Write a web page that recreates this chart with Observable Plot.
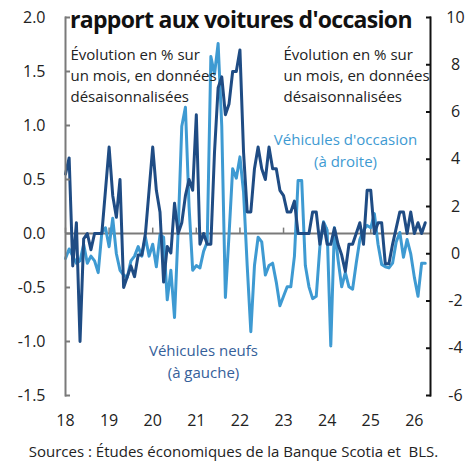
<!DOCTYPE html>
<html><head><meta charset="utf-8">
<script src="https://cdn.jsdelivr.net/npm/d3@7"></script>
<script src="https://cdn.jsdelivr.net/npm/@observablehq/plot@0.6"></script>
<style>
body{margin:0;background:#fff;font-family:"Open Sans",sans-serif;}
#wrap{position:relative;width:467px;height:462px;overflow:hidden;background:#fff;}
#chart{position:absolute;left:0;top:0;}
#title{position:absolute;left:70px;top:4px;font-weight:700;font-size:23px;letter-spacing:-0.7px;color:#111;white-space:nowrap;line-height:30px;}
#caption{position:absolute;left:0;width:467px;top:441px;text-align:center;font-size:15px;color:#222;white-space:pre;line-height:20px;}
</style></head><body>
<div id="wrap"><div id="chart"></div><div id="title">rapport aux voitures d'occasion</div><div id="caption">Sources : Études économiques de la Banque Scotia et  BLS.</div></div>
<script>
// Monthly % change, seasonally adjusted, Jan 2018 onward
const newVehicles = [
  0.55, 0.7, -0.3, 0.1, -1.0, -0.05, 0.0, -0.15, 0.0, 0.0, 0.0, 0.4,
  0.8, 0.35, 0.15, 0.5, -0.5, -0.4, -0.3, -0.4, -0.2, -0.2, 0.0, 0.4,
  0.8, 0.4, 0.2, -0.45, -0.12, -0.18, 0.28, 0.0, 0.1, 0.35, 0.5, 0.4,
  1.1, -0.1, 0.0, -0.1, -0.1, 0.75, 1.35, 1.45, 1.1, 1.2, 1.5, 1.5,
  1.7, 0.75, 0.2, 0.2, 0.6, 0.8, 0.6, 0.5, 0.8, 0.6, 0.6, 0.4,
  0.35, 0.2, 0.2, 0.3, 0.0, 0.0, 0.0, 0.0, 0.2, 0.2, -0.1, 0.1,
  -0.1, -0.1, 0.05, -0.1, -0.2, -0.35, -0.1, -0.1, 0.0, 0.1, -0.1, 0.4,
  0.4, 0.0, 0.1, 0.1, -0.28, -0.28, -0.1, 0.05, 0.2, 0.2, 0.0, 0.2,
  0.0, 0.1, 0.0, 0.1
];
const usedVehicles = [
  -0.2, 0.2, -0.1, -0.4, -0.3, 0.4, -0.4, -0.1, -0.3, -0.8, 0.9, 1.1,
  0.3, 1.5, 0.0, -0.7, -0.9, -1.0, -0.3, -0.1, 0.3, -0.1, 0.7, -0.1,
  0.4, -0.55, 0.8, 0.7, -1.95, -0.7, -2.7, 1.0, 5.4, 6.2, 2.0, -0.7,
  -0.5, -0.6, 0.1, 0.5, 8.35, 7.6, 8.9, 5.4, -1.85, 0.8, 3.6, 3.2,
  4.1, 2.6, -0.5, -3.3, -0.5, 0.7, 0.5, -0.9, -0.5, -0.4, -1.2, -2.2,
  -1.8, -1.4, -1.4, -0.1, 3.1, 3.1, -0.5, -1.4, -1.9, -1.8, 0.3, 1.35,
  1.0, -3.9, 1.1, -0.25, -1.4, -0.8, -1.4, -1.5, -0.4, 0.6, 1.0, 1.2,
  1.1, 1.7, 0.4, -0.45, -0.55, -0.6, -0.4, 0.5, 0.9, -0.15, 0.6, 0.0,
  -1.0, -1.8, -0.4, -0.4
];
const xTicks = [18, 19, 20, 21, 22, 23, 24, 25, 26];
const leftTicks = [-1.5, -1.0, -0.5, 0.0, 0.5, 1.0, 1.5, 2.0];
const rightTicks = [-6, -4, -2, 0, 2, 4, 6, 8, 10];

const darkColor = "#1f4c84";
const lightColor = "#3e9ad2";
const leftDomain = [-1.5, 2.0];
const rightDomain = [-6, 10];
const toLeft = v => leftDomain[0] + (v - rightDomain[0]) * (leftDomain[1] - leftDomain[0]) / (rightDomain[1] - rightDomain[0]);
const toRight = v => rightDomain[0] + (v - leftDomain[0]) * (rightDomain[1] - rightDomain[0]) / (leftDomain[1] - leftDomain[0]);

const data = newVehicles.map((v, i) => ({m: 18 + i / 12, nv: v, uv: toLeft(usedVehicles[i])}));

const chart = Plot.plot({
  width: 467, height: 440,
  marginLeft: 65, marginRight: 37, marginTop: 17, marginBottom: 45,
  x: {domain: [18, 26.37], label: null},
  y: {domain: leftDomain, label: null},
  style: {fontFamily: "'Open Sans', sans-serif", fontSize: "16px", color: "#222", background: "#fff"},
  marks: [
    Plot.ruleY([0], {stroke: "#7a7a7a", strokeWidth: 2}),
    Plot.ruleX(xTicks, {x: d => d, y1: 0, y2: 0.05, stroke: "#7a7a7a", strokeWidth: 1.5}),
    Plot.line(data, {x: "m", y: "uv", stroke: lightColor, strokeWidth: 3}),
    Plot.line(data, {x: "m", y: "nv", stroke: darkColor, strokeWidth: 3}),
    Plot.frame({anchor: "left", stroke: "#7a7a7a", strokeWidth: 2}),
    Plot.frame({anchor: "right", stroke: "#111", strokeWidth: 2}),
    Plot.axisY(leftTicks, {anchor: "left", label: null, tickSize: -5, stroke: "#7a7a7a", strokeWidth: 2, tickFormat: () => ""}),
    Plot.axisY(leftTicks, {anchor: "left", label: null, tickSize: 0, tickPadding: 20, fontSize: 16, fill: "#222", tickFormat: d => d.toFixed(1)}),
    Plot.axisY(rightTicks.map(toLeft), {anchor: "right", label: null, tickSize: -5, stroke: "#111", strokeWidth: 2, tickFormat: () => ""}),
    Plot.axisY(rightTicks.map(toLeft), {anchor: "right", label: null, tickSize: 0, tickPadding: 25, textAnchor: "middle", fontSize: 16, fill: "#222", tickFormat: d => String(Math.round(toRight(d)))}),
    Plot.axisX(xTicks, {anchor: "bottom", label: null, tickSize: 0, tickPadding: 19, fontSize: 16, fill: "#222", tickFormat: d => String(d)}),
    Plot.text(["Évolution en % sur\nun mois, en données\ndésaisonnalisées"], {frameAnchor: "top-left", dx: 5, dy: 28, textAnchor: "start", lineAnchor: "top", fontSize: 15, lineHeight: 1.4, fill: "#222"}),
    Plot.text(["Évolution en % sur\nun mois, en données\ndésaisonnalisées"], {frameAnchor: "top-left", dx: 218, dy: 28, textAnchor: "start", lineAnchor: "top", fontSize: 15, lineHeight: 1.4, fill: "#222"}),
    Plot.text(["Véhicules d'occasion\n(à droite)"], {frameAnchor: "top-left", dx: 280, dy: 112, textAnchor: "middle", lineAnchor: "top", fontSize: 15, lineHeight: 1.45, fill: lightColor}),
    Plot.text(["Véhicules neufs\n(à gauche)"], {frameAnchor: "top-left", dx: 138, dy: 323, textAnchor: "middle", lineAnchor: "top", fontSize: 15, lineHeight: 1.45, fill: "#35609a"})
  ]
});
document.getElementById("chart").appendChild(chart);
</script>
</body></html>
